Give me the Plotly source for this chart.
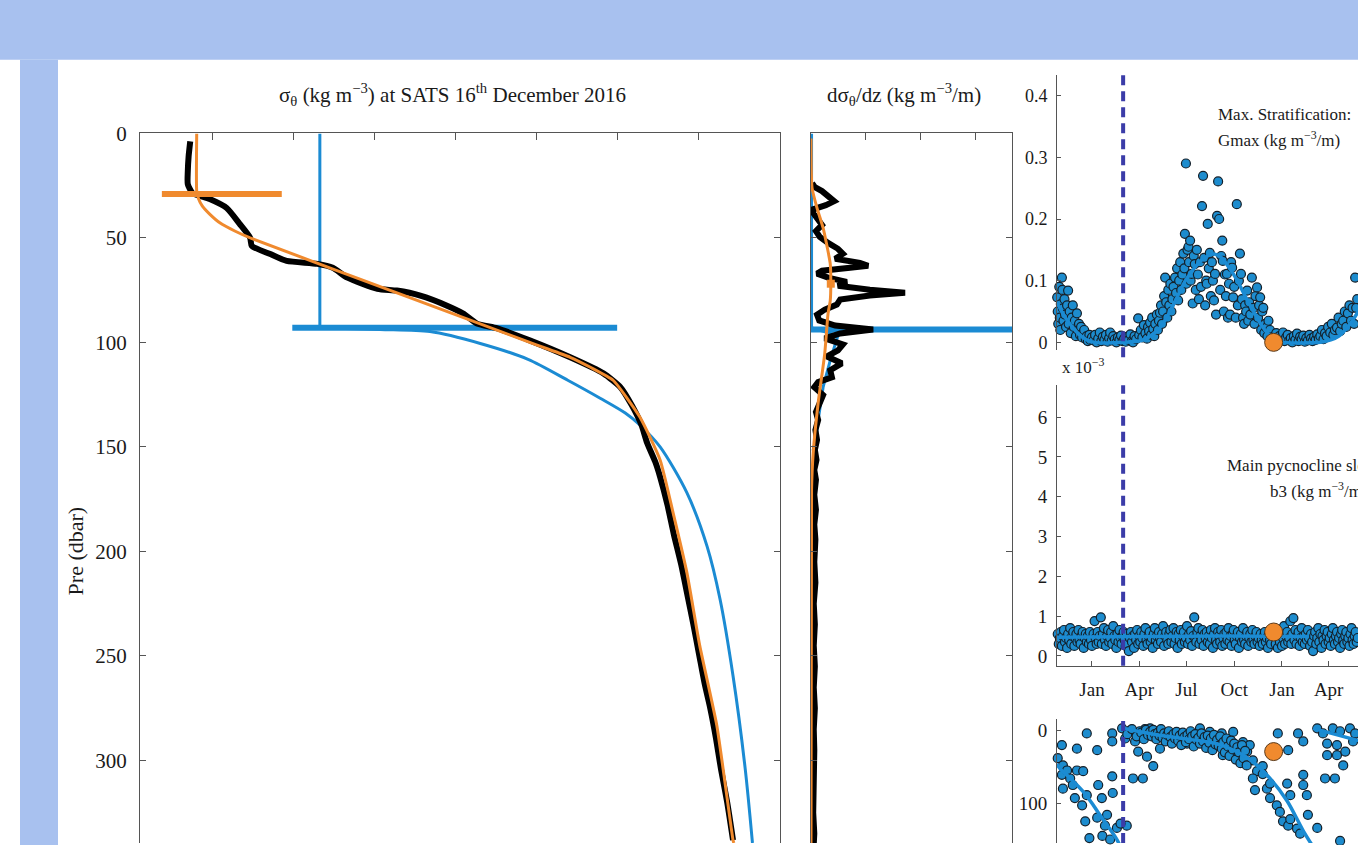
import plotly.graph_objects as go
import pandas as pd

W, H = 1358, 845

# ---------------- Left panel: sigma-theta (kg m-3) vs pressure (dbar) ----------------
obs_sigma = [26.973, 26.971, 26.970, 26.970, 26.976, 26.997, 27.018, 27.034, 27.047, 27.049,
             27.071, 27.092, 27.130, 27.149, 27.167, 27.204, 27.228, 27.257, 27.290, 27.310,
             27.327, 27.352, 27.392, 27.442, 27.483, 27.504, 27.518, 27.530, 27.537, 27.547,
             27.553, 27.562, 27.570, 27.579, 27.586, 27.594, 27.601, 27.608, 27.615, 27.622,
             27.628, 27.636, 27.643]
obs_pres = [3.8, 11.0, 18.1, 24.3, 28.6, 31.4, 35.7, 43.3, 50.0, 53.8,
            57.6, 61.0, 62.4, 64.3, 69.0, 74.3, 75.2, 77.6, 82.4, 86.2,
            91.0, 93.3, 99.0, 107.1, 114.8, 121.4, 130.0, 139.5, 148.1, 157.1,
            164.3, 177.6, 191.9, 206.2, 219.5, 234.8, 249.0, 263.3, 275.2, 289.5,
            303.8, 320.5, 338.1]

orange_fit_sigma = [26.981, 26.981, 26.983, 26.988, 26.997, 27.010, 27.028, 27.047, 27.244, 27.402,
                    27.442, 27.467, 27.495, 27.528, 27.553, 27.569, 27.586, 27.602, 27.623, 27.643, 27.644]
orange_fit_pres = [0, 27.6, 31.0, 34.8, 38.6, 42.9, 46.7, 50.0, 78.6, 101.4,
                   107.1, 111.9, 118.1, 135.7, 156.2, 181.4, 210.0, 245.2, 283.3, 338.1, 339.5]

blue_ml_sigma = [27.133, 27.133]
blue_ml_pres = [0, 93.0]
blue_fit_sigma = [27.133, 27.207, 27.269, 27.331, 27.390, 27.439, 27.479, 27.510, 27.528,
                  27.553, 27.586, 27.611, 27.627, 27.643, 27.658, 27.667]
blue_fit_pres = [93.0, 93.8, 94.8, 100.5, 108.1, 118.1, 126.7, 133.8, 139.5,
                 150.0, 171.9, 197.6, 222.9, 259.5, 303.8, 339.5]

orange_mld_pres = 29.0
orange_mld_sigma = [26.938, 27.086]
blue_mld_pres = 93.0
blue_mld_sigma = [27.099, 27.500]

sigma_ticks = [27.0, 27.1, 27.2, 27.3, 27.4, 27.5, 27.6]
pres_ticks = [0, 50, 100, 150, 200, 250, 300]

# ---------------- Middle panel: d sigma / dz ----------------
grad_obs_g = [0.002, 0.007, 0.020, 0.035, 0.042, 0.027, 0.005, 0.004, 0.013, 0.020,
              0.009, 0.016, 0.031, 0.049, 0.058, 0.044, 0.089, 0.104, 0.071, 0.020,
              0.011, 0.031, 0.065, 0.049, 0.107, 0.171, 0.107, 0.053, 0.047, 0.025,
              0.011, 0.015, 0.044, 0.113, 0.053, 0.025, 0.058, 0.049, 0.029, 0.056,
              0.035, 0.038, 0.013, 0.006, 0.022, 0.016, 0.009, 0.013, 0.008, 0.011,
              0.007, 0.010, 0.006, 0.009, 0.006, 0.009, 0.006, 0.008,
              0.006, 0.008, 0.005, 0.007, 0.005, 0.007, 0.005, 0.007, 0.005, 0.006,
              0.005, 0.006, 0.004, 0.006, 0.005]
grad_obs_p = [23.8, 25.7, 27.6, 30.5, 32.4, 34.3, 36.2, 38.1, 41.0, 43.8,
              46.7, 49.5, 52.4, 55.2, 57.6, 60.0, 61.9, 63.3, 64.3, 65.7,
              67.1, 69.0, 71.0, 72.9, 74.8, 76.2, 77.6, 79.5, 81.9, 84.3,
              86.7, 89.5, 91.9, 93.8, 95.7, 98.1, 101.0, 103.8, 106.7, 110.0,
              113.3, 116.7, 119.0, 121.4, 125.2, 129.0, 133.3, 137.1, 141.9, 146.7,
              151.4, 156.2, 161.0, 165.7, 172.9, 180.0, 187.1, 194.3,
              205, 215, 225, 235, 245, 255, 265, 275, 285, 295,
              305, 315, 325, 335, 340]

grad_orange_g = [0.0, 0.002, 0.011, 0.022, 0.029, 0.035, 0.036, 0.035, 0.031, 0.025, 0.013, 0.004, 0.001, 0.0]
grad_orange_p = [2.4, 26.2, 35.7, 45.2, 53.8, 62.4, 71.9, 80.0, 86.2, 105.2, 129.0, 152.9, 170.5, 339.5]
grad_orange_max = (0.036, 71.9)

grad_blue_g = [0.001, 0.001, 0.049, 0.035, 0.022, 0.013, 0.007, 0.004, 0.002, 0.0]
grad_blue_p = [0, 93.0, 96.7, 108.6, 121.4, 137.1, 151.4, 165.7, 199.0, 339.5]
grad_blue_bar_g = [0.0, 0.3655]
grad_blue_bar_p = 93.8

grad_ticks = [0.1, 0.2, 0.3]

# ---------------- Right panels (days since 2016-01-01) ----------------
gmax_obs = [(-67, 0.073), (-66, 0.05), (-65, 0.03), (-63, 0.09), (-62, 0.04), (-61, 0.02), (-60, 0.062),
            (-58, 0.105), (-57, 0.085), (-56, 0.055), (-55, 0.035), (-53, 0.07), (-52, 0.045), (-50, 0.025),
            (-48, 0.06), (-46, 0.084), (-45, 0.03), (-43, 0.05), (-41, 0.015), (-39, 0.04), (-37, 0.06),
            (-35, 0.025), (-33, 0.035), (-31, 0.01), (-29, 0.047), (-27, 0.02), (-25, 0.03), (-23, 0.012),
            (-21, 0.025), (-19, 0.008), (-17, 0.015), (-15, 0.02), (-12, 0.005), (-10, 0.01), (-8, 0.002),
            (-5, 0.012), (-3, 0.004),
            (0, 0.008), (3, 0.003), (6, 0.012), (9, 0.0), (12, 0.006), (15, 0.016), (18, 0.002), (21, 0.009),
            (24, 0.004), (27, 0.012), (30, 0.001), (33, 0.007), (35, 0.016), (38, 0.003), (41, 0.01),
            (44, 0.005), (47, 0.0), (50, 0.008), (53, 0.004), (56, 0.011), (59, 0.002), (62, 0.006),
            (65, 0.001), (68, 0.009), (71, 0.004), (74, 0.013), (77, 0.002), (79, 0.0), (82, 0.01),
            (85, 0.005), (89, 0.039), (91, 0.012), (94, 0.02), (97, 0.008), (100, 0.028), (103, 0.015),
            (106, 0.006), (108, 0.025), (110, 0.018), (112, 0.032), (114, 0.012), (116, 0.04), (118, 0.022),
            (120, 0.01), (122, 0.03), (125, 0.045), (127, 0.02), (129, 0.035), (131, 0.048), (133, 0.06),
            (135, 0.03), (137, 0.05), (139, 0.075), (141, 0.105), (143, 0.065), (145, 0.04), (147, 0.085),
            (149, 0.06), (151, 0.095), (153, 0.05), (155, 0.07), (157, 0.09), (160, 0.105), (162, 0.08),
            (164, 0.12), (166, 0.068), (168, 0.1), (170, 0.13), (172, 0.085), (174, 0.11), (176, 0.144),
            (178, 0.12), (179, 0.176), (181, 0.29), (182, 0.095), (184, 0.15), (186, 0.155), (187, 0.13),
            (189, 0.165), (190, 0.1), (192, 0.111), (194, 0.063), (196, 0.14), (198, 0.127), (200, 0.085),
            (202, 0.15), (204, 0.11), (206, 0.07), (208, 0.13), (210, 0.09), (212, 0.221), (214, 0.27),
            (216, 0.137), (218, 0.06), (220, 0.1), (221, 0.095), (223, 0.192), (225, 0.12), (227, 0.145),
            (229, 0.075), (231, 0.13), (233, 0.1), (235, 0.068), (237, 0.111), (239, 0.045), (241, 0.205),
            (243, 0.261), (245, 0.2), (247, 0.085), (249, 0.14), (251, 0.165), (252, 0.132), (254, 0.05),
            (256, 0.11), (258, 0.075), (260, 0.111), (262, 0.04), (264, 0.095), (266, 0.045), (268, 0.13),
            (270, 0.121), (272, 0.073), (274, 0.09), (277, 0.04), (279, 0.224), (281, 0.06), (283, 0.1),
            (285, 0.144), (287, 0.111), (289, 0.07), (291, 0.04), (293, 0.03), (295, 0.06), (297, 0.05),
            (299, 0.084), (301, 0.035), (303, 0.065), (305, 0.045), (308, 0.105), (311, 0.056), (313, 0.03),
            (315, 0.075), (318, 0.089), (320, 0.04), (322, 0.06), (324, 0.073), (326, 0.02), (328, 0.05),
            (330, 0.056), (332, 0.015), (334, 0.03), (336, 0.024), (338, 0.01), (340, 0.035), (343, 0.02),
            (346, 0.008),
            (355, 0.015), (358, 0.003), (361, 0.01), (364, 0.005), (368, 0.016), (371, 0.002), (374, 0.008),
            (377, 0.012), (380, 0.003), (383, 0.007), (386, 0.0), (389, 0.01), (392, 0.004), (395, 0.014),
            (398, 0.002), (401, 0.009), (404, 0.005), (407, 0.011), (410, 0.001), (413, 0.007), (416, 0.003),
            (419, 0.012), (422, 0.006), (425, 0.002), (428, 0.009), (431, 0.004), (434, 0.013), (437, 0.006),
            (440, 0.01), (443, 0.02), (446, 0.005), (449, 0.015), (452, 0.01), (455, 0.025), (459, 0.016),
            (462, 0.03), (465, 0.012), (468, 0.02), (472, 0.024), (475, 0.04), (478, 0.018), (481, 0.03),
            (484, 0.035), (487, 0.05), (490, 0.025), (493, 0.047), (496, 0.06), (499, 0.035), (502, 0.056),
            (505, 0.03), (507, 0.105), (509, 0.056), (511, 0.07)]
gmax_fit = [(-68, 0.066), (-55, 0.045), (-40, 0.027), (-25, 0.013), (-10, 0.004), (5, 0.0), (60, 0.0),
            (95, 0.003), (115, 0.012), (131, 0.024), (147, 0.045), (162, 0.07), (180, 0.1), (195, 0.118),
            (210, 0.133), (225, 0.141), (237, 0.143), (250, 0.137), (265, 0.12), (280, 0.1), (295, 0.075),
            (310, 0.052), (325, 0.03), (340, 0.013), (355, 0.004), (370, 0.0), (440, 0.0), (460, 0.004),
            (475, 0.01), (490, 0.022), (500, 0.033), (513, 0.05)]

b3_obs = [(-66, 0.55), (-64, 0.3), (-62, 0.45), (-60, 0.6), (-58, 0.25), (-56, 0.5), (-54, 0.65), (-52, 0.35),
          (-50, 0.45), (-48, 0.2), (-46, 0.55), (-44, 0.4), (-42, 0.7), (-40, 0.3), (-38, 0.5), (-36, 0.6),
          (-34, 0.25), (-32, 0.45), (-30, 0.55), (-28, 0.35), (-26, 0.65), (-24, 0.4), (-22, 0.3), (-20, 0.5),
          (-18, 0.6), (-16, 0.2), (-14, 0.45), (-12, 0.55), (-10, 0.35), (-8, 0.5), (-6, 0.3), (-4, 0.6),
          (-2, 0.4), (0, 0.25), (3, 0.55), (5, 0.875), (7, 0.45), (9, 0.3), (11, 0.6), (13, 0.35), (15, 0.5),
          (17, 0.97), (19, 0.3), (21, 0.55), (23, 0.7), (25, 0.4), (27, 0.25), (29, 0.5), (31, 0.65),
          (33, 0.35), (35, 0.45), (37, 0.6), (39, 0.3), (41, 0.75), (43, 0.5), (45, 0.4), (47, 0.2),
          (49, 0.55), (51, 0.35), (53, 0.65), (55, 0.45), (57, 0.3), (59, 0.5), (61, 0.6), (63, 0.4),
          (65, 0.25), (67, 0.55), (69, 0.3), (71, 0.12), (73, 0.45), (75, 0.6), (77, 0.35), (79, 0.5),
          (81, 0.2), (83, 0.55), (85, 0.4), (87, 0.65), (89, 0.3), (91, 0.5), (93, 0.35), (95, 0.6),
          (97, 0.45), (99, 0.25), (101, 0.55), (103, 0.7), (105, 0.4), (107, 0.3), (109, 0.5), (111, 0.6),
          (113, 0.35), (115, 0.45), (117, 0.2), (119, 0.55), (121, 0.7), (123, 0.4), (125, 0.5), (127, 0.3),
          (129, 0.6), (131, 0.45), (133, 0.35), (135, 0.55), (137, 0.75), (139, 0.25), (141, 0.5), (143, 0.6),
          (145, 0.4), (147, 0.3), (149, 0.55), (151, 0.65), (153, 0.35), (155, 0.5), (157, 0.7), (159, 0.3),
          (161, 0.45), (163, 0.6), (165, 0.2), (167, 0.55), (169, 0.4), (171, 0.65), (173, 0.3), (175, 0.5),
          (177, 0.6), (179, 0.35), (181, 0.45), (183, 0.75), (185, 0.3), (187, 0.55), (189, 0.4), (191, 0.62),
          (193, 0.25), (195, 0.5), (197, 0.97), (199, 0.45), (201, 0.35), (203, 0.6), (205, 0.7), (207, 0.3),
          (209, 0.5), (211, 0.4), (213, 0.65), (215, 0.25), (217, 0.55), (219, 0.45), (221, 0.6), (223, 0.35),
          (225, 0.5), (227, 0.3), (229, 0.65), (231, 0.45), (233, 0.2), (235, 0.55), (237, 0.7), (239, 0.4),
          (241, 0.3), (243, 0.6), (245, 0.5), (247, 0.35), (249, 0.65), (251, 0.25), (253, 0.45), (255, 0.55),
          (257, 0.3), (259, 0.6), (261, 0.4), (263, 0.7), (265, 0.35), (267, 0.5), (269, 0.25), (271, 0.55),
          (273, 0.65), (275, 0.4), (277, 0.3), (279, 0.5), (281, 0.6), (283, 0.2), (285, 0.45), (287, 0.55),
          (289, 0.35), (291, 0.7), (293, 0.4), (295, 0.3), (297, 0.5), (299, 0.6), (301, 0.25), (303, 0.45),
          (305, 0.55), (307, 0.35), (309, 0.65), (311, 0.4), (313, 0.3), (315, 0.5), (317, 0.6), (319, 0.35),
          (321, 0.45), (323, 0.25), (325, 0.55), (327, 0.4), (329, 0.3), (331, 0.5), (333, 0.6), (335, 0.35),
          (337, 0.45), (339, 0.2), (341, 0.55), (343, 0.4), (345, 0.3), (347, 0.5), (354, 0.3), (356, 0.5),
          (358, 0.2), (360, 0.55), (362, 0.35), (364, 0.6), (366, 0.25), (368, 0.45), (370, 0.75), (372, 0.3),
          (374, 0.5), (376, 0.6), (378, 0.35), (380, 0.45), (382, 0.87), (384, 0.3), (386, 0.55), (388, 0.95),
          (390, 0.4), (392, 0.65), (394, 0.3), (396, 0.5), (398, 0.6), (400, 0.25), (402, 0.45), (404, 0.7),
          (406, 0.35), (408, 0.5), (410, 0.3), (412, 0.55), (414, 0.4), (416, 0.65), (418, 0.45), (420, 0.25),
          (422, 0.55), (424, 0.35), (426, 0.12), (428, 0.5), (430, 0.6), (432, 0.3), (434, 0.45), (436, 0.7),
          (438, 0.35), (440, 0.55), (442, 0.2), (444, 0.5), (446, 0.4), (448, 0.65), (450, 0.3), (452, 0.5),
          (454, 0.6), (456, 0.35), (458, 0.45), (460, 0.25), (462, 0.55), (464, 0.7), (466, 0.4), (468, 0.3),
          (470, 0.5), (472, 0.6), (474, 0.35), (476, 0.45), (478, 0.2), (480, 0.55), (482, 0.65), (484, 0.4),
          (486, 0.3), (488, 0.5), (490, 0.6), (492, 0.35), (494, 0.45), (496, 0.25), (498, 0.55), (500, 0.7),
          (502, 0.4), (504, 0.3), (506, 0.5), (508, 0.6), (510, 0.35), (512, 0.45)]
b3_fit = [(-68, 0.47), (100, 0.49), (250, 0.5), (418, 0.49)]

pyc_obs = [(-58, 20), (-66, 38), (-56, 48), (-58, 61), (-48, 55), (-42, 66), (-56, 80), (-37, 75), (-29, 55),
           (-33, 93), (-17, 56), (-19, 103), (-10, 89), (-13, 125), (-29, 25), (-10, 4), (10, 27), (12, 75),
           (10, 120), (19, 93), (25, 131), (39, 4), (39, 15), (39, 63), (40, 86), (29, 116), (48, 134),
           (67, 131), (58, -3), (64, 11), (79, 66), (98, 66), (83, 15), (89, 29), (106, 36), (118, 49),
           (102, -2), (73, 0), (92, 1), (112, -3), (131, 25), (150, 10), (166, 12), (183, 18), (202, 14),
           (208, -3), (227, 2), (241, 8), (250, 4), (252, 34), (266, 20), (272, 2), (279, 34), (291, 16),
           (299, 29), (304, 20), (310, 41), (318, 56), (310, 66), (329, 49), (314, 82), (337, 80), (343, 73),
           (329, 60), (343, 93), (356, 103), (362, 112), (368, 125), (378, 131), (382, 122), (395, 135),
           (401, 142), (376, 73), (382, 89), (407, 75), (414, 89), (407, 61), (416, 116), (434, 134),
           (378, 27), (358, 4), (397, 4), (407, 15), (434, -3), (445, 4), (464, -3), (478, 1), (453, 18),
           (472, 20), (453, 34), (472, 34), (449, 66), (468, 66), (484, 48), (488, 29), (497, -3), (503, 15),
           (507, 4), (478, 152), (68, 5), (77, -2), (86, 8), (95, 3), (100, 12), (104, -1), (108, 6),
           (112, 2), (115, 8), (118, -1), (121, 5), (124, 12), (127, 3), (130, 7), (133, -2), (136, 10),
           (139, 4), (142, 15), (145, 6), (148, 1), (151, 9), (154, 18), (157, 5), (160, 11), (163, 2),
           (166, 14), (169, 7), (172, 20), (175, 3), (178, 9), (181, 16), (184, 6), (187, 12), (190, 1),
           (193, 8), (196, 22), (199, 5), (202, 13), (205, 10), (208, 18), (211, 4), (214, 15), (217, 9),
           (220, 24), (223, 7), (226, 17), (229, 11), (232, 27), (235, 6), (238, 19), (241, 13), (244, 21),
           (247, 8), (250, 25), (253, 16), (256, 30), (259, 11), (262, 22), (265, 35), (268, 14), (271, 26),
           (274, 18), (277, 40), (280, 23), (283, 30), (286, 45), (289, 20), (292, 38), (295, 28), (298, 48),
           (20, 145), (35, 150), (55, 128), (-5, 148)]
pyc_fit_prev = [(-68, 46), (-62, 52), (-40, 67), (-17, 84), (0, 100), (15, 116), (35, 136), (48, 150), (55, 160)]
pyc_fit_2016 = [(60, -3), (110, 4), (175, 11), (240, 18), (279, 29), (310, 43), (343, 66), (376, 97),
                (407, 138), (426, 160)]
pyc_fit_2017 = [(426, -3), (478, 7), (513, 14)]

profile_day = 350          # 16 December 2016
profile_gmax = 0.0
profile_b3 = 0.6
profile_pyc = 29
ref_line_day = 60          # 1 March 2016

month_ticks = ["2016-01-01", "2016-04-01", "2016-07-01", "2016-10-01", "2017-01-01", "2017-04-01"]
month_labels = ["Jan", "Apr", "Jul", "Oct", "Jan", "Apr"]

BASE = pd.Timestamp("2016-01-01")


def to_dates(days):
    return [(BASE + pd.Timedelta(days=float(d))).strftime("%Y-%m-%d %H:%M") for d in days]


def split(pairs):
    return [p[0] for p in pairs], [p[1] for p in pairs]


# ---------------- styling ----------------
BLUE = "#1b8bd3"
ORANGE = "#f08a2e"
DASH = "#3b3ca8"
AX = "#555555"
TXT = "#1a1a1a"
SERIF = "Liberation Serif"
BAND = "#a8c1ef"

# page placement: the plotting paper is drawn 10 px down, 835 px tall
Y_OFF, Y_SPAN = 10.0, 835.0


def fx(px):
    return px / W


def fy(py):
    return min(1.0, max(0.0, 1 - (py - Y_OFF) / Y_SPAN))


fig = go.Figure()

# Left panel
fig.add_trace(go.Scatter(x=blue_ml_sigma, y=blue_ml_pres, mode="lines",
                         line=dict(color=BLUE, width=3), xaxis="x", yaxis="y"))
fig.add_trace(go.Scatter(x=blue_fit_sigma, y=blue_fit_pres, mode="lines",
                         line=dict(color=BLUE, width=3, shape="spline", smoothing=0.8), xaxis="x", yaxis="y"))
fig.add_trace(go.Scatter(x=blue_mld_sigma, y=[blue_mld_pres] * 2, mode="lines",
                         line=dict(color=BLUE, width=6), xaxis="x", yaxis="y"))
fig.add_trace(go.Scatter(x=obs_sigma, y=obs_pres, mode="lines",
                         line=dict(color="black", width=6, shape="spline", smoothing=0.6), xaxis="x", yaxis="y"))
fig.add_trace(go.Scatter(x=orange_fit_sigma, y=orange_fit_pres, mode="lines",
                         line=dict(color=ORANGE, width=3, shape="spline", smoothing=0.5), xaxis="x", yaxis="y"))
fig.add_trace(go.Scatter(x=orange_mld_sigma, y=[orange_mld_pres] * 2, mode="lines",
                         line=dict(color=ORANGE, width=6), xaxis="x", yaxis="y"))

# Middle panel
fig.add_trace(go.Scatter(x=grad_blue_g, y=grad_blue_p, mode="lines",
                         line=dict(color=BLUE, width=3), xaxis="x2", yaxis="y2"))
fig.add_trace(go.Scatter(x=grad_blue_bar_g, y=[grad_blue_bar_p] * 2, mode="lines",
                         line=dict(color=BLUE, width=6), xaxis="x2", yaxis="y2"))
fig.add_trace(go.Scatter(x=grad_obs_g, y=grad_obs_p, mode="lines",
                         line=dict(color="black", width=6), xaxis="x2", yaxis="y2"))
fig.add_trace(go.Scatter(x=grad_orange_g, y=grad_orange_p, mode="lines",
                         line=dict(color=ORANGE, width=3, shape="spline", smoothing=0.6), xaxis="x2", yaxis="y2"))
fig.add_trace(go.Scatter(x=[grad_orange_max[0]], y=[grad_orange_max[1]], mode="markers",
                         marker=dict(symbol="square", color=ORANGE, size=8), xaxis="x2", yaxis="y2"))

MK = dict(size=9, color="#1d8cce", line=dict(color="#14202a", width=1.2))


def add_panel(obs, fits, val, xa, ya):
    d, v = split(obs)
    fig.add_trace(go.Scatter(x=to_dates(d), y=v, mode="markers", marker=MK,
                             cliponaxis=False, xaxis=xa, yaxis=ya))
    for f in fits:
        fd, fv = split(f)
        fig.add_trace(go.Scatter(x=to_dates(fd), y=fv, mode="lines",
                                 line=dict(color=BLUE, width=3.5, shape="spline", smoothing=0.8),
                                 xaxis=xa, yaxis=ya))
    fig.add_trace(go.Scatter(x=to_dates([profile_day]), y=[val], mode="markers",
                             marker=dict(size=18, color=ORANGE, line=dict(color="#5a3a1a", width=1)),
                             cliponaxis=False, xaxis=xa, yaxis=ya))


add_panel(gmax_obs, [gmax_fit], profile_gmax, "x3", "y3")
add_panel(b3_obs, [b3_fit], profile_b3, "x4", "y4")
add_panel(pyc_obs, [pyc_fit_prev, pyc_fit_2016, pyc_fit_2017], profile_pyc, "x5", "y5")

# ---------------- layout ----------------
common_line = dict(showline=True, linecolor=AX, linewidth=1, showgrid=False, zeroline=False,
                   ticks="inside", tickcolor=AX)
date_range = [to_dates([-67.4])[0], to_dates([512.5])[0]]

layout = dict(
    width=W, height=H, margin=dict(l=0, r=0, t=0, b=0),
    paper_bgcolor="white", plot_bgcolor="rgba(0,0,0,0)", showlegend=False,
    font=dict(family=SERIF, color=TXT, size=18),
    xaxis=dict(domain=[fx(140), fx(780)], anchor="y", side="top", range=[26.911, 27.701],
               tickvals=sigma_ticks, showticklabels=False, ticklen=7, **common_line),
    yaxis=dict(domain=[fy(845), fy(132)], anchor="x", range=[339.5, 0], tickvals=pres_ticks,
               ticklen=6, mirror="ticks", tickfont=dict(family=SERIF, size=21, color=TXT),
               ticklabelstandoff=8, **common_line),
    xaxis2=dict(domain=[fx(811), fx(1012)], anchor="y2", side="top", range=[0, 0.3655],
                tickvals=grad_ticks, showticklabels=False, ticklen=7, **common_line),
    yaxis2=dict(domain=[fy(845), fy(132)], anchor="x2", range=[339.5, 0], tickvals=pres_ticks,
                showticklabels=False, ticklen=6, mirror="ticks", **common_line),
    xaxis3=dict(domain=[fx(1057), 1], anchor="y3", type="date", range=date_range, visible=False),
    yaxis3=dict(domain=[fy(350), fy(73)], anchor="x3", range=[-0.013, 0.434],
                tickvals=[0, 0.1, 0.2, 0.3, 0.4], ticktext=["0", "0.1", "0.2", "0.3", "0.4"],
                ticklen=4, tickfont=dict(family=SERIF, size=18, color=TXT), ticklabelstandoff=5,
                **common_line),
    xaxis4=dict(domain=[fx(1057), 1], anchor="y4", type="date", range=date_range,
                tickvals=month_ticks, ticktext=month_labels, ticklen=5,
                tickfont=dict(family=SERIF, size=19, color=TXT), ticklabelstandoff=6, **common_line),
    yaxis4=dict(domain=[fy(667), fy(385)], anchor="x4", range=[-0.25, 6.8],
                tickvals=[0, 1, 2, 3, 4, 5, 6], ticklen=4, tickfont=dict(family=SERIF, size=19, color=TXT),
                ticklabelstandoff=5, **common_line),
    xaxis5=dict(domain=[fx(1057), 1], anchor="y5", type="date", range=date_range, visible=False),
    yaxis5=dict(domain=[fy(845), fy(720)], anchor="x5", range=[154.8, -16.4], tickvals=[0, 100],
                ticklen=4, tickfont=dict(family=SERIF, size=19, color=TXT), ticklabelstandoff=5,
                **common_line),
)
fig.update_layout(**layout)

# background band and strip
shapes = [
    dict(type="rect", xref="paper", yref="paper", x0=0, x1=1, y0=fy(58), y1=1.05,
         fillcolor=BAND, line=dict(width=0), layer="below"),
    dict(type="rect", xref="paper", yref="paper", x0=fx(20), x1=fx(58), y0=-0.02, y1=fy(58),
         fillcolor=BAND, line=dict(width=0), layer="below"),
]
ref_date = to_dates([ref_line_day])[0]
for xa, top, bot in [("x3", 73, 357), ("x4", 385, 667), ("x5", 720, 845)]:
    shapes.append(dict(type="line", xref=xa, yref="paper", x0=ref_date, x1=ref_date,
                       y0=fy(bot), y1=fy(top), line=dict(color=DASH, width=4, dash="10px,6px")))
fig.update_layout(shapes=shapes)

ann = [
    dict(text="σ<sub>θ</sub> (kg m<sup>−3</sup>) at SATS 16<sup>th</sup> December 2016",
         x=fx(452), y=fy(93), size=21, xanchor="center"),
    dict(text="dσ<sub>θ</sub>/dz (kg m<sup>−3</sup>/m)", x=fx(904), y=fy(93), size=21, xanchor="center"),
    dict(text="Max. Stratification:", x=fx(1216), y=fy(113), size=17, xanchor="left"),
    dict(text="Gmax (kg m<sup>−3</sup>/m)", x=fx(1216), y=fy(138), size=17, xanchor="left"),
    dict(text="Main pycnocline slope:", x=fx(1225), y=fy(466), size=17, xanchor="left"),
    dict(text="b3 (kg m<sup>−3</sup>/m)", x=fx(1268), y=fy(490), size=17, xanchor="left"),
    dict(text="x 10<sup>−3</sup>", x=fx(1060), y=fy(366), size=17, xanchor="left"),
]
annotations = [dict(text=a["text"], x=a["x"], y=a["y"], xref="paper", yref="paper",
                    xanchor=a["xanchor"], yanchor="middle", showarrow=False,
                    font=dict(family=SERIF, size=a["size"], color=TXT)) for a in ann]
annotations.append(dict(text="Pre (dbar)", x=fx(75), y=fy(552), xref="paper", yref="paper",
                        textangle=-90, showarrow=False, xanchor="center", yanchor="middle",
                        font=dict(family=SERIF, size=22, color=TXT)))
fig.update_layout(annotations=annotations)

fig.write_html("out.html")
